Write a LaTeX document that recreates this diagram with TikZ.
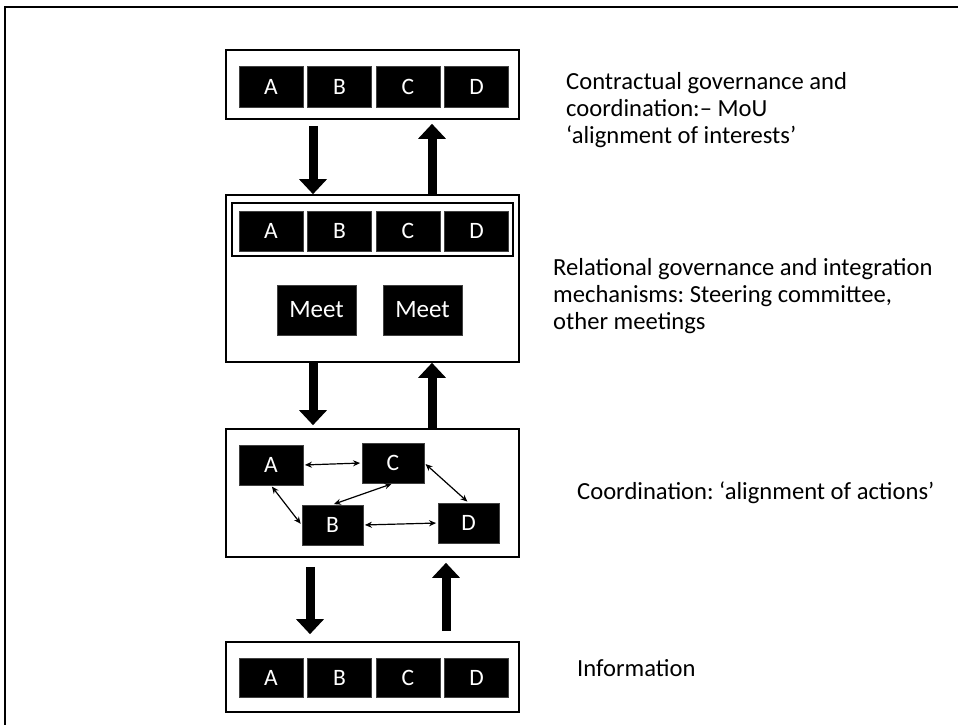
\documentclass[tikz,border=0pt]{standalone}
\usepackage{fontspec}
\setmainfont{Carlito}
\usetikzlibrary{arrows.meta,calc}
\begin{document}
\frenchspacing
\begin{tikzpicture}[x=1pt,y=-1pt,
  frame/.style={draw=black, line width=1.6pt, fill=white, inner sep=0pt},
  inframe/.style={draw=black, line width=1.3pt, inner sep=0pt},
  blk/.style={fill=black, draw=black!75, line width=0.8pt, text=white, inner sep=0pt,
    font=\fontsize{23.5}{26}\selectfont},
  bigarrow/.style={line width=9pt, -{Triangle[width=27pt,length=15pt]}},
  smallarrow/.style={line width=1.2pt, {Stealth[length=7pt,width=6pt]}-{Stealth[length=7pt,width=6pt]}, shorten >=1.5pt, shorten <=1.5pt},
  lab/.style={anchor=west, align=left, inner sep=0pt, font=\fontsize{24.6}{27}\selectfont}
]
\useasboundingbox (0,0) rectangle (958,725);
\draw[line width=1.5pt] (5,740) -- (5,7) -- (970,7);

% level 1
\node[frame, minimum width=293pt, minimum height=69pt] (L1) at (372.5,84.5) {};
\node[blk, minimum width=64pt, minimum height=41pt] (a1) at (271,86.5) {A};
\node[blk, minimum width=64pt, minimum height=41pt] (b1) at (339.5,86.5) {B};
\node[blk, minimum width=64pt, minimum height=41pt] (c1) at (408,86.5) {C};
\node[blk, minimum width=64pt, minimum height=41pt] (d1) at (476.5,86.5) {D};

% level 2
\node[frame, minimum width=293pt, minimum height=167pt] (L2) at (372.5,278.5) {};
\node[inframe, minimum width=281pt, minimum height=53pt] (F2) at (372.5,229.5) {};
\node[blk, minimum width=64pt, minimum height=40pt] (a2) at (271,231) {A};
\node[blk, minimum width=64pt, minimum height=40pt] (b2) at (339.5,231) {B};
\node[blk, minimum width=64pt, minimum height=40pt] (c2) at (408,231) {C};
\node[blk, minimum width=64pt, minimum height=40pt] (d2) at (476.5,231) {D};
\node[blk, minimum width=79pt, minimum height=50pt, font=\fontsize{25}{28}\selectfont] (m1) at (316.5,310) {Meet};
\node[blk, minimum width=79pt, minimum height=50pt, font=\fontsize{25}{28}\selectfont] (m2) at (422.5,310) {Meet};

% level 3
\node[frame, minimum width=293pt, minimum height=128pt] (L3) at (372.5,493) {};
\node[blk, minimum width=64pt, minimum height=40pt] (a3) at (271,465) {A};
\node[blk, minimum width=62pt, minimum height=40pt] (c3) at (393,463) {C};
\node[blk, minimum width=61pt, minimum height=40pt] (b3) at (332.5,525) {B};
\node[blk, minimum width=61pt, minimum height=40pt] (d3) at (468.5,523) {D};
\draw[smallarrow] (a3.east) -- (c3.west);
\draw[smallarrow] (a3.south) -- (b3.west);
\draw[smallarrow] (c3.south) -- (b3.north);
\draw[smallarrow] (c3.east) -- (d3.north);
\draw[smallarrow] (b3.east) -- (d3.west);

% level 4
\node[frame, minimum width=293pt, minimum height=70pt] (L4) at (372.5,677) {};
\node[blk, minimum width=64pt, minimum height=39pt] (a4) at (271,677.5) {A};
\node[blk, minimum width=64pt, minimum height=39pt] (b4) at (339.5,677.5) {B};
\node[blk, minimum width=64pt, minimum height=39pt] (c4) at (408,677.5) {C};
\node[blk, minimum width=64pt, minimum height=39pt] (d4) at (476.5,677.5) {D};

% big arrows
\coordinate (xd) at (313,0);
\coordinate (xu) at (432,0);
\coordinate (xd2) at (310,0);
\coordinate (xu2) at (446,0);
\draw[bigarrow] ($(L1.south -| xd)+(0,6)$) -- (L2.north -| xd);
\draw[bigarrow] (L2.north -| xu) -- ($(L1.south -| xu)+(0,4)$);
\draw[bigarrow] (L2.south -| xd) -- ($(L3.north -| xd)+(0,-3)$);
\draw[bigarrow] (L3.north -| xu) -- (L2.south -| xu);
\draw[bigarrow] ($(L3.south -| xd2)+(0,9)$) -- ($(L4.north -| xd2)+(0,-7)$);
\draw[bigarrow] ($(L4.north -| xu2)+(0,-10)$) -- ($(L3.south -| xu2)+(0,5)$);

% labels
\node[lab] (t1) at (566,110) {Contractual governance and\\coordination:– MoU\\‘alignment of interests’};
\node[lab] (t2) at (553,296) {Relational governance and integration\\mechanisms: Steering committee,\\other meetings};
\node[lab] (t3) at (577,493) {Coordination: ‘alignment of actions’};
\node[lab] (t4) at (577,668) {Information};
\end{tikzpicture}
\end{document}
